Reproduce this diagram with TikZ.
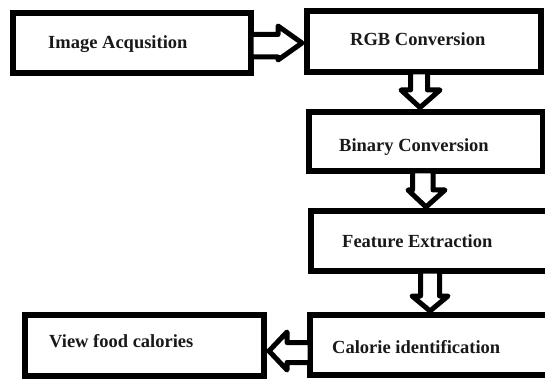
\documentclass[tikz,border=0pt]{standalone}
\usepackage{fontspec}
\setmainfont{Liberation Serif}
\usetikzlibrary{calc}
\begin{document}
\begin{tikzpicture}[x=1pt,y=-1pt,
  box/.style={draw=black, line width=5.5pt, fill=white, rectangle, inner sep=0pt, outer sep=0pt},
  lbl/.style={anchor=base west, inner sep=0pt, font=\fontsize{18.5}{22}\selectfont\bfseries, text=black!90},
  barr/.style={draw=black, line width=5pt, fill=white, line join=round}]
\path[use as bounding box] (0,0) rectangle (545,379);
\clip (0,0) rectangle (545,379);
\fill[white] (0,0) rectangle (545,379);
% boxes
\node[box, minimum width=238pt, minimum height=60pt] (b1) at (132,43) {};
\node[box, minimum width=234pt, minimum height=61pt] (b2) at (424,41.5) {};
\node[box, minimum width=234pt, minimum height=59pt] (b3) at (426,141.5) {};
\node[box, minimum width=249pt, minimum height=60pt] (b4) at (435.5,241) {};
\node[box, minimum width=250pt, minimum height=60pt] (b5) at (435,345) {};
\node[box, minimum width=239pt, minimum height=61pt] (b6) at (144.5,345.5) {};
% labels
\node[lbl] (t1) at (48,49) {Image Acqusition};
\node[lbl] (t2) at (350,46) {RGB Conversion};
\node[lbl] (t3) at (339,152) {Binary Conversion};
\node[lbl] (t4) at (342,247) {Feature Extraction};
\node[lbl] (t5) at (332,353) {Calorie identification};
\node[lbl] (t6) at (49,347) {View food calories};
% block arrows
\draw[barr] (b1.east |- 0,34.5) -- (278,34.5) -- (278,26) -- ($(b2.west |- 0,43)+(-5,0)$)
  -- (278,60) -- (278,57) -- (b1.east |- 0,57) -- cycle;
\draw[barr] (410.5,0 |- b2.south) -- (410.5,90) -- (401,90) -- ($(420,0 |- b3.north)+(0,-4.5)$)
  -- (440,90) -- (427.5,90) -- (427.5,0 |- b2.south) -- cycle;
\draw[barr] (412.5,0 |- b3.south) -- (412.5,190) -- (408,190) -- ($(426,0 |- b4.north)+(0,-4)$)
  -- (445,190) -- (433,190) -- (433,0 |- b3.south) -- cycle;
\draw[barr] (420.5,0 |- b4.south) -- (420.5,296) -- (412,296) -- ($(430,0 |- b5.north)+(0,-4)$)
  -- (448,296) -- (439.5,296) -- (439.5,0 |- b4.south) -- cycle;
\draw[barr] (b5.west |- 0,342.5) -- (287,342.5) -- (287,332) -- ($(b6.east |- 0,351)+(5,0)$)
  -- (287,370) -- (287,362.5) -- (b5.west |- 0,362.5) -- cycle;
\end{tikzpicture}
\end{document}
